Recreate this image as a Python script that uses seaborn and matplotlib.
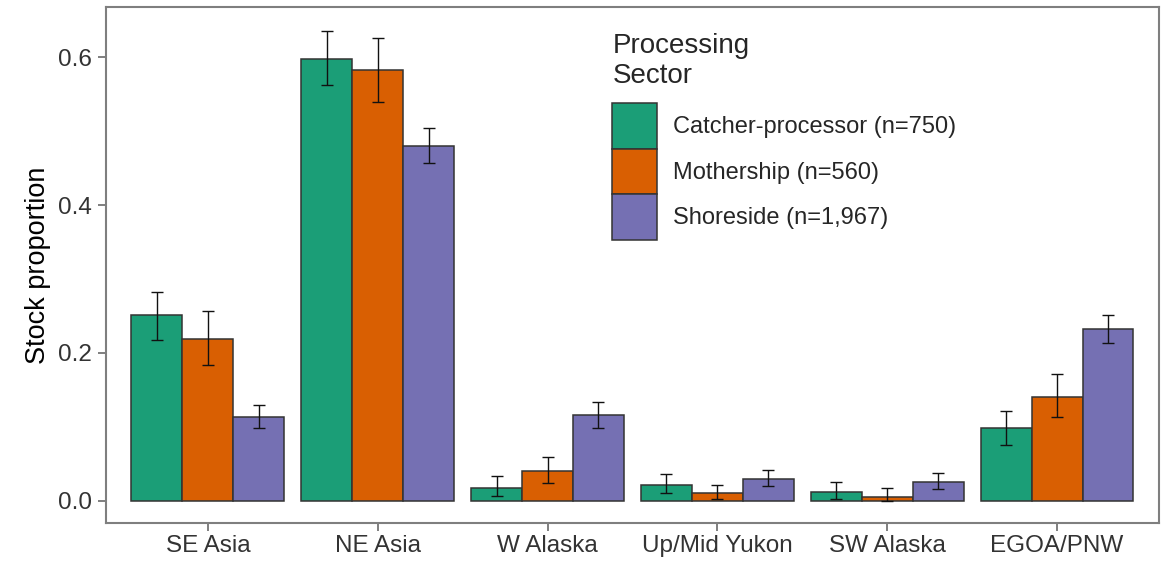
import pandas as pd
import matplotlib
matplotlib.use("Agg")
import matplotlib.pyplot as plt
import seaborn as sns

# stock regions on the x axis
regions = ["SE Asia", "NE Asia", "W Alaska", "Up/Mid Yukon", "SW Alaska", "EGOA/PNW"]
sectors = ["Catcher-processor (n=750)", "Mothership (n=560)", "Shoreside (n=1,967)"]

# catcher-processor
cp_mean = [0.251, 0.598, 0.018, 0.021, 0.012, 0.098]
cp_low = [0.218, 0.562, 0.007, 0.010, 0.002, 0.076]
cp_high = [0.283, 0.636, 0.033, 0.036, 0.026, 0.121]
# mothership
ms_mean = [0.219, 0.583, 0.040, 0.010, 0.005, 0.141]
ms_low = [0.184, 0.540, 0.024, 0.002, 0.000, 0.113]
ms_high = [0.257, 0.626, 0.059, 0.021, 0.018, 0.171]
# shoreside
ss_mean = [0.114, 0.480, 0.116, 0.029, 0.026, 0.232]
ss_low = [0.099, 0.457, 0.099, 0.020, 0.016, 0.214]
ss_high = [0.129, 0.504, 0.133, 0.042, 0.037, 0.252]

colors = ["#1B9E77", "#D95F02", "#7570B3"]

means = [cp_mean, ms_mean, ss_mean]
lows = [cp_low, ms_low, ss_low]
highs = [cp_high, ms_high, ss_high]

rows = []
for s, m in zip(sectors, means):
    for r, v in zip(regions, m):
        rows.append({"region": r, "sector": s, "prop": v})
df = pd.DataFrame(rows)

sns.set_style("white")
plt.rcParams["font.family"] = ["Liberation Sans", "DejaVu Sans"]

fig = plt.figure(figsize=(11.67, 5.64), dpi=100)
ax = fig.add_axes([0.0908, 0.0727, 0.9023, 0.9149])

sns.barplot(data=df, x="region", y="prop", hue="sector", order=regions,
            hue_order=sectors, palette=colors, width=0.9, gap=0,
            errorbar=None, edgecolor="#333333", linewidth=1.1,
            saturation=1, ax=ax)

# error bars placed on the drawn bars
for cont, m, lo, hi in zip(ax.containers, means, lows, highs):
    xs = [b.get_x() + b.get_width() / 2 for b in cont]
    err = [[v - l for v, l in zip(m, lo)], [h - v for v, h in zip(m, hi)]]
    ax.errorbar(xs, m, yerr=err, fmt="none", ecolor="#111111",
                elinewidth=1.0, capsize=4.3, capthick=1.0, zorder=5)

ax.set_xlim(-0.6, 5.6)
ax.set_ylim(-0.030, 0.668)
ax.set_yticks([0.0, 0.2, 0.4, 0.6])
ax.set_yticklabels(["0.0", "0.2", "0.4", "0.6"])
ax.set_xlabel("")
ax.set_ylabel("Stock proportion", fontsize=19.5, color="black", labelpad=5)

for sp in ax.spines.values():
    sp.set_visible(True)
    sp.set_color("#7f7f7f")
    sp.set_linewidth(1.5)
ax.tick_params(axis="both", which="both", length=5.5, width=1.4, color="#7f7f7f",
               labelsize=17.5, labelcolor="#333333", bottom=True, left=True)
ax.tick_params(axis="y", pad=4.5)
ax.tick_params(axis="x", pad=3)

leg = ax.legend(title="Processing\nSector", loc="upper left",
                bbox_to_anchor=(0.472, 0.968), frameon=False, fontsize=17,
                title_fontsize=20, handlelength=1.9, handleheight=2.6,
                labelspacing=0.0, handletextpad=0.65, alignment="left",
                borderaxespad=0)
leg._legend_box.sep = 10
for h in leg.legend_handles:
    h.set_edgecolor("#333333")
    h.set_linewidth(1.1)

fig.savefig("out.png", dpi=100)
